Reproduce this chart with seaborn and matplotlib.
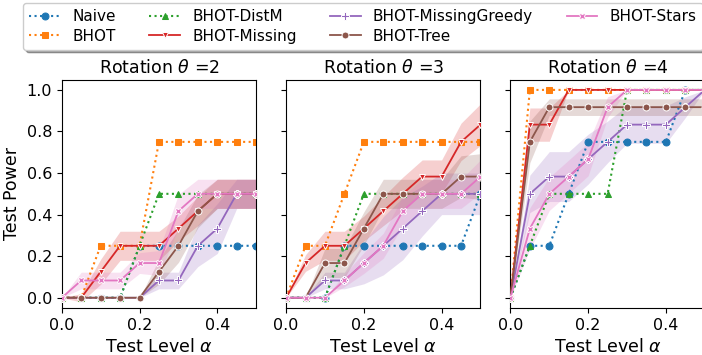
import seaborn as sns
import matplotlib.pyplot as plt

alpha = [0.0, 0.05, 0.1, 0.15, 0.2, 0.25, 0.3, 0.35, 0.4, 0.45, 0.5]
rotations = [2, 3, 4]
methods = ["Naive", "BHOT", "BHOT-DistM", "BHOT-Missing",
           "BHOT-MissingGreedy", "BHOT-Tree", "BHOT-Stars"]

# rotation theta = 2
naive_2 = [0, 0, 0, 0, 0.25, 0.25, 0.25, 0.25, 0.25, 0.25, 0.25]
bhot_2 = [0, 0, 0.25, 0.25, 0.25, 0.75, 0.75, 0.75, 0.75, 0.75, 0.75]
distm_2 = [0, 0, 0, 0, 0.25, 0.5, 0.5, 0.5, 0.5, 0.5, 0.5]
missing_2 = [0, 0, 0.125, 0.25, 0.25, 0.25, 0.333, 0.417, 0.5, 0.5, 0.5]
greedy_2 = [0, 0, 0, 0, 0, 0.083, 0.083, 0.25, 0.333, 0.5, 0.5]
tree_2 = [0, 0, 0, 0, 0, 0.125, 0.25, 0.417, 0.5, 0.5, 0.5]
stars_2 = [0, 0.083, 0.083, 0.083, 0.167, 0.167, 0.417, 0.5, 0.5, 0.5, 0.5]
missing_band_2 = [0, 0.02, 0.06, 0.07, 0.07, 0.07, 0.06, 0.07, 0.07, 0.07, 0.07]
greedy_band_2 = [0, 0, 0, 0, 0, 0.04, 0.04, 0.1, 0.12, 0.07, 0.07]
tree_band_2 = [0, 0, 0, 0, 0, 0.06, 0.08, 0.08, 0.07, 0.07, 0.07]
stars_band_2 = [0, 0.04, 0.04, 0.04, 0.05, 0.06, 0.08, 0.07, 0.07, 0.07, 0.07]

# rotation theta = 3
naive_3 = [0, 0, 0, 0.25, 0.25, 0.25, 0.25, 0.25, 0.25, 0.25, 0.5]
bhot_3 = [0, 0.25, 0.25, 0.5, 0.75, 0.75, 0.75, 0.75, 0.75, 0.75, 0.75]
distm_3 = [0, 0, 0, 0.25, 0.5, 0.5, 0.5, 0.5, 0.5, 0.5, 0.5]
missing_3 = [0, 0.167, 0.25, 0.25, 0.333, 0.417, 0.5, 0.583, 0.583, 0.75, 0.833]
greedy_3 = [0, 0, 0.083, 0.083, 0.167, 0.25, 0.333, 0.417, 0.5, 0.5, 0.5]
tree_3 = [0, 0, 0.167, 0.167, 0.333, 0.5, 0.5, 0.5, 0.5, 0.583, 0.583]
stars_3 = [0, 0, 0, 0.083, 0.167, 0.25, 0.417, 0.5, 0.5, 0.5, 0.583]
missing_band_3 = [0, 0.04, 0.07, 0.07, 0.06, 0.07, 0.08, 0.08, 0.08, 0.09, 0.1]
greedy_band_3 = [0, 0, 0.04, 0.04, 0.1, 0.14, 0.15, 0.12, 0.1, 0.1, 0.1]
tree_band_3 = [0, 0, 0.07, 0.07, 0.08, 0.07, 0.07, 0.07, 0.07, 0.1, 0.11]
stars_band_3 = [0, 0, 0, 0.03, 0.05, 0.06, 0.07, 0.07, 0.07, 0.07, 0.08]

# rotation theta = 4
naive_4 = [0, 0.25, 0.25, 0.5, 0.75, 0.75, 0.75, 0.75, 0.75, 1, 1]
bhot_4 = [0, 1, 1, 1, 1, 1, 1, 1, 1, 1, 1]
distm_4 = [0, 0.25, 0.5, 0.5, 0.5, 0.5, 1, 1, 1, 1, 1]
missing_4 = [0, 0.833, 0.833, 1, 1, 1, 1, 1, 1, 1, 1]
greedy_4 = [0, 0.5, 0.583, 0.583, 0.667, 0.75, 0.833, 0.833, 0.833, 0.917, 1]
tree_4 = [0, 0.75, 0.917, 0.917, 0.917, 0.917, 0.917, 0.917, 0.917, 0.917, 0.917]
stars_4 = [0, 0.333, 0.5, 0.583, 0.667, 0.917, 1, 1, 1, 1, 1]
missing_band_4 = [0, 0.08, 0.08, 0, 0, 0, 0, 0, 0, 0, 0]
greedy_band_4 = [0, 0.09, 0.12, 0.12, 0.12, 0.1, 0.09, 0.09, 0.09, 0.05, 0]
tree_band_4 = [0, 0.1, 0.04, 0.04, 0.04, 0.04, 0.04, 0.04, 0.04, 0.04, 0.04]
stars_band_4 = [0, 0.1, 0.08, 0.08, 0.08, 0.05, 0, 0, 0, 0, 0]

panels = {
    2: ([naive_2, bhot_2, distm_2, missing_2, greedy_2, tree_2, stars_2],
        {"BHOT-Missing": missing_band_2, "BHOT-MissingGreedy": greedy_band_2,
         "BHOT-Tree": tree_band_2, "BHOT-Stars": stars_band_2}),
    3: ([naive_3, bhot_3, distm_3, missing_3, greedy_3, tree_3, stars_3],
        {"BHOT-Missing": missing_band_3, "BHOT-MissingGreedy": greedy_band_3,
         "BHOT-Tree": tree_band_3, "BHOT-Stars": stars_band_3}),
    4: ([naive_4, bhot_4, distm_4, missing_4, greedy_4, tree_4, stars_4],
        {"BHOT-Missing": missing_band_4, "BHOT-MissingGreedy": greedy_band_4,
         "BHOT-Tree": tree_band_4, "BHOT-Stars": stars_band_4}),
}

colors = sns.color_palette("tab10", 7)
markers = ["o", "s", "^", "v", "P", "o", "X"]
baselines = ["Naive", "BHOT", "BHOT-DistM"]

fig, axes = plt.subplots(1, 3, figsize=(7.02, 3.55), dpi=100, sharey=True)
fig.subplots_adjust(left=0.088, right=1.004, bottom=0.132, top=0.776, wspace=0.154)

for ax, rot in zip(axes, rotations):
    series, bands = panels[rot]
    for i, (name, vals) in enumerate(zip(methods, series)):
        c = colors[i]
        if name in baselines:
            sns.lineplot(x=alpha, y=vals, ax=ax, color=c, marker=markers[i],
                         linestyle=":", lw=1.5, markersize=5,
                         markeredgecolor=c, label=name, zorder=2)
        else:
            lo = [v - b for v, b in zip(vals, bands[name])]
            hi = [v + b for v, b in zip(vals, bands[name])]
            ax.fill_between(alpha, lo, hi, color=c, alpha=0.22, lw=0)
            sns.lineplot(x=alpha, y=vals, ax=ax, color=c, marker=markers[i],
                         lw=1.3, markersize=5 if markers[i] != "P" else 6,
                         markeredgecolor="w", markeredgewidth=0.7,
                         label=name, zorder=3)
    ax.get_legend().remove()
    ax.set_xlim(0, 0.5)
    ax.set_ylim(-0.05, 1.05)
    ax.set_xticks([0.0, 0.2, 0.4])
    ax.set_yticks([0.0, 0.2, 0.4, 0.6, 0.8, 1.0])
    ax.tick_params(labelsize=11.5)
    ax.set_title(r"Rotation $\theta$ =" + str(rot), fontsize=12.5, pad=5)
    ax.set_xlabel(r"Test Level $\alpha$", fontsize=12.5)
    ax.set_ylabel("Test Power", fontsize=12.5)

handles, labels = axes[0].get_legend_handles_labels()
fig.legend(handles, labels, loc="upper center", bbox_to_anchor=(0.517, 1.0),
           ncol=4, fontsize=11, shadow=True, columnspacing=2.2,
           labelspacing=0.3, borderaxespad=0.2)

plt.savefig("out.png", dpi=100)
plt.close()
